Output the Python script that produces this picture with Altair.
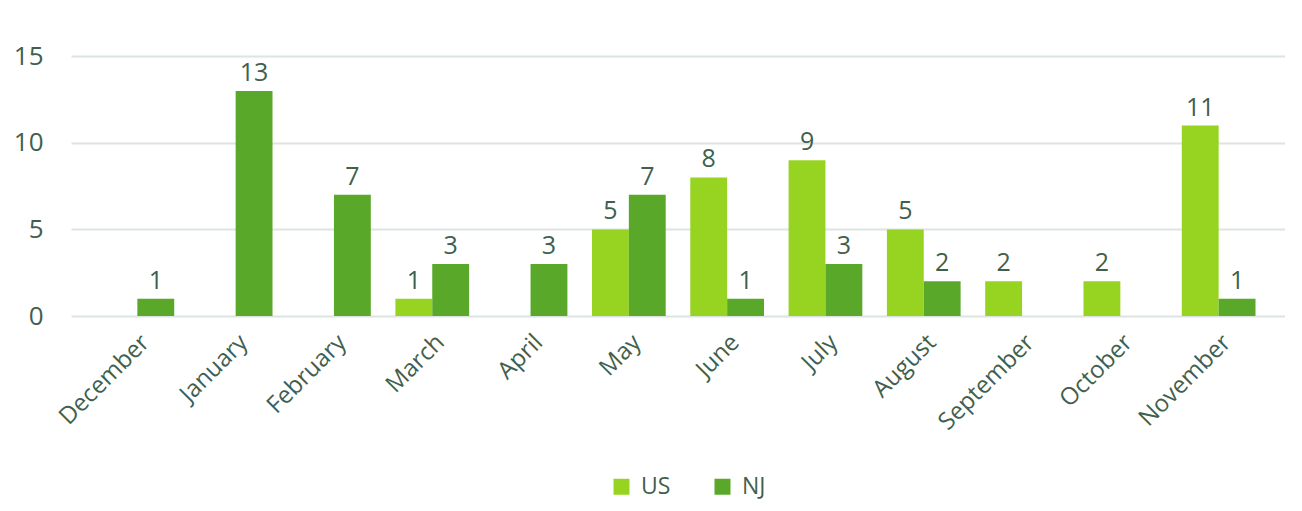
import altair as alt
import pandas as pd

months = ["December", "January", "February", "March", "April", "May", "June",
          "July", "August", "September", "October", "November"]
us = [0, 0, 0, 1, 0, 5, 8, 9, 5, 2, 2, 11]
nj = [1, 13, 7, 3, 3, 7, 1, 3, 2, 0, 0, 1]
series = ["US", "NJ"]
colors = ["#97d422", "#5aa82a"]

rows = []
for m, u, n in zip(months, us, nj):
    rows.append({"month": m, "series": "US", "value": u})
    rows.append({"month": m, "series": "NJ", "value": n})
df = pd.DataFrame(rows)
df["label"] = df["value"].astype(str)

txt = "#3f5f4f"
font = "Open Sans"

x = alt.X("month:N", sort=months, title=None,
          scale=alt.Scale(paddingInner=0.25, paddingOuter=0.3),
          axis=alt.Axis(labelAngle=-45, labelFontSize=24, labelColor=txt, labelFont=font,
                        domain=False, ticks=False, labelPadding=14))
y = alt.Y("value:Q", title=None, scale=alt.Scale(domain=[0, 17.5], nice=False),
          axis=alt.Axis(values=[0, 5, 10, 15], labelFontSize=26, labelColor=txt, labelFont=font,
                        domain=False, ticks=False, gridColor="#dce5e1", gridWidth=2,
                        labelPadding=28))
color = alt.Color("series:N", sort=series,
                  scale=alt.Scale(domain=series, range=colors),
                  legend=alt.Legend(orient="none", legendX=539, legendY=462, title=None,
                                    symbolType="square", symbolSize=256, labelFontSize=23,
                                    labelColor=txt, labelFont=font, columnPadding=40,
                                    symbolStrokeWidth=0, direction="horizontal",
                                    labelOffset=8, labelLimit=200))

base = alt.Chart(df).encode(
    x=x,
    xOffset=alt.XOffset("series:N", sort=series,
                        scale=alt.Scale(domain=series, paddingInner=0, paddingOuter=0)),
)

bars = base.mark_bar(width={"band": 1.0}).encode(y=y, color=color)
labels = base.transform_filter("datum.value > 0").mark_text(
    dy=-18, fontSize=25, color=txt, font=font
).encode(y=alt.Y("value:Q"), text="label:N")

chart = alt.layer(bars, labels).properties(
    width=1214, height=303,
    padding={"left": 5, "top": 5, "right": 0, "bottom": 4},
).configure_view(stroke=None)

chart.save("out.html", embed_options={"renderer": "svg", "actions": False})
